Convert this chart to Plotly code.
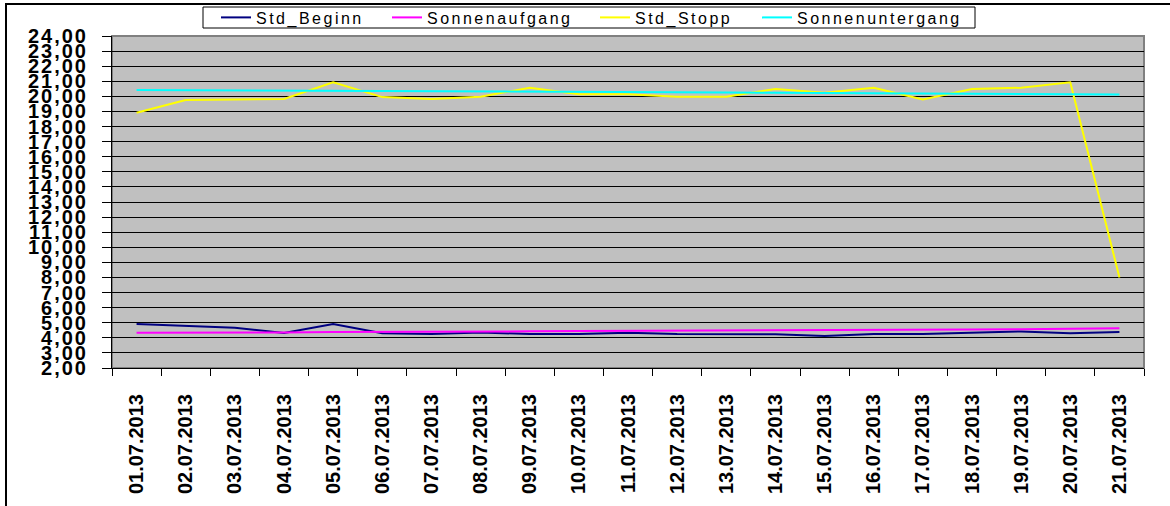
import plotly.graph_objects as go

dates = ["01.07.2013", "02.07.2013", "03.07.2013", "04.07.2013", "05.07.2013",
         "06.07.2013", "07.07.2013", "08.07.2013", "09.07.2013", "10.07.2013",
         "11.07.2013", "12.07.2013", "13.07.2013", "14.07.2013", "15.07.2013",
         "16.07.2013", "17.07.2013", "18.07.2013", "19.07.2013", "20.07.2013",
         "21.07.2013"]

std_beginn = [4.92, 4.78, 4.67, 4.32, 4.92, 4.30, 4.25, 4.36, 4.25, 4.25,
              4.34, 4.25, 4.25, 4.23, 4.12, 4.25, 4.25, 4.34, 4.42, 4.30, 4.39]
sonnenaufgang = [4.33, 4.33, 4.33, 4.35, 4.38, 4.38, 4.40, 4.42, 4.43, 4.45,
                 4.46, 4.46, 4.47, 4.47, 4.48, 4.52, 4.53, 4.55, 4.57, 4.62, 4.63]
std_stopp = [18.92, 19.76, 19.80, 19.83, 20.93, 19.95, 19.83, 19.98, 20.57, 20.14,
             20.14, 19.98, 19.98, 20.49, 20.24, 20.57, 19.80, 20.49, 20.57, 20.93, 8.00]
sonnenuntergang = [20.42, 20.41, 20.40, 20.39, 20.38, 20.37, 20.35, 20.33, 20.32, 20.30,
                   20.29, 20.27, 20.26, 20.24, 20.22, 20.21, 20.19, 20.17, 20.16, 20.14, 20.13]

series = [
    ("Std_Beginn", std_beginn, "#000080"),
    ("Sonnenaufgang", sonnenaufgang, "#FF00FF"),
    ("Std_Stopp", std_stopp, "#FFFF00"),
    ("Sonnenuntergang", sonnenuntergang, "#00FFFF"),
]

W, H = 1170, 506
L, R, T, B = 112, 26, 36, 138
pw, ph = W - L - R, H - T - B

def px(x):
    return (x - L) / pw

def py(y):
    return (H - B - y) / ph

legend_names = ["legend", "legend2", "legend3", "legend4"]
legend_x = [216, 387, 595, 757]

fig = go.Figure()
for (name, vals, col), lg in zip(series, legend_names):
    fig.add_trace(go.Scatter(x=dates, y=vals, name=name, mode="lines",
                             legend=lg, line=dict(color=col, width=2)))

# empty helper trace so the tick-mark overlay axes get drawn
fig.add_trace(go.Scatter(x=[None], y=[None], xaxis="x2", yaxis="y2",
                         showlegend=False, hoverinfo="skip", mode="lines"))

layout_legends = {}
for lg, lx in zip(legend_names, legend_x):
    layout_legends[lg] = dict(
        xref="container", yref="container",
        x=lx / W, y=1 - 17.5 / H, xanchor="left", yanchor="middle",
        bgcolor="rgba(0,0,0,0)", borderwidth=0,
        font=dict(size=16, color="black",
                  family="Liberation Sans, Arial, sans-serif"),
        orientation="h",
    )

n = len(dates)
xrange_ = [-0.5, n - 0.5]
boundaries = [i - 0.5 for i in range(n + 1)]

fig.update_layout(
    width=W, height=H,
    margin=dict(l=L, r=R, t=T, b=B, autoexpand=False),
    paper_bgcolor="white",
    plot_bgcolor="#C0C0C0",
    separators=",.",
    font=dict(family="Liberation Sans, Arial, sans-serif", color="black"),
    showlegend=True,
    xaxis=dict(
        type="category",
        tickangle=-90,
        ticks="outside", ticklen=17, tickcolor="rgba(0,0,0,0)", tickwidth=1,
        showgrid=False,
        showline=True, linecolor="black", linewidth=1,
        tickfont=dict(size=20, weight="bold", color="black"),
        range=xrange_,
        automargin=False,
    ),
    xaxis2=dict(
        overlaying="x", anchor="y", side="bottom",
        range=xrange_,
        tickmode="array", tickvals=boundaries,
        ticks="outside", ticklen=7, tickcolor="black", tickwidth=1,
        showticklabels=False, showgrid=False, showline=False, zeroline=False,
        automargin=False,
    ),
    yaxis=dict(
        range=[2, 24],
        dtick=1,
        tick0=0,
        tickformat=".2f",
        ticks="outside", ticklen=19, tickcolor="rgba(0,0,0,0)", tickwidth=1,
        showgrid=True, gridcolor="black", gridwidth=1,
        showline=True, linecolor="black", linewidth=1,
        zeroline=False,
        tickfont=dict(size=20, weight="bold", color="black"),
        automargin=False,
    ),
    yaxis2=dict(
        overlaying="y", anchor="x", side="left",
        range=[2, 24], dtick=1, tick0=0,
        ticks="outside", ticklen=9, tickcolor="black", tickwidth=1,
        showticklabels=False, showgrid=False, showline=False, zeroline=False,
        automargin=False,
    ),
    shapes=[
        dict(type="rect", xref="paper", yref="paper", x0=0, x1=1, y0=0, y1=1,
             line=dict(color="#808080", width=2), layer="below"),
        dict(type="rect", xref="paper", yref="paper",
             x0=px(6), x1=px(1175), y0=py(4), y1=py(512),
             line=dict(color="black", width=2), layer="below"),
        dict(type="rect", xref="paper", yref="paper",
             x0=px(203), x1=px(975), y0=py(7), y1=py(28),
             fillcolor="white", line=dict(color="black", width=1), layer="above"),
    ],
    **layout_legends,
)

post = """
document.body.style.margin = '0';
document.documentElement.style.overflow = 'hidden';
document.body.style.overflow = 'hidden';
var gd = document.getElementById('{plot_id}');
function applySpacing(){
  gd.querySelectorAll('.infolayer text.legendtext, .infolayer g[class^="legend"] text').forEach(function(t){
    t.style.letterSpacing = '2.5px';
  });
  gd.querySelectorAll('.infolayer .scrollbox').forEach(function(s){ s.removeAttribute('clip-path'); });
  gd.querySelectorAll('g.ytick text').forEach(function(t){ t.style.letterSpacing = '2px'; });
}
applySpacing();
var nRuns = 0;
var timer = setInterval(function(){ applySpacing(); nRuns += 1; if (nRuns > 60) { clearInterval(timer); } }, 50);
"""

fig.write_html("out.html", post_script=post, config={"displayModeBar": False})
